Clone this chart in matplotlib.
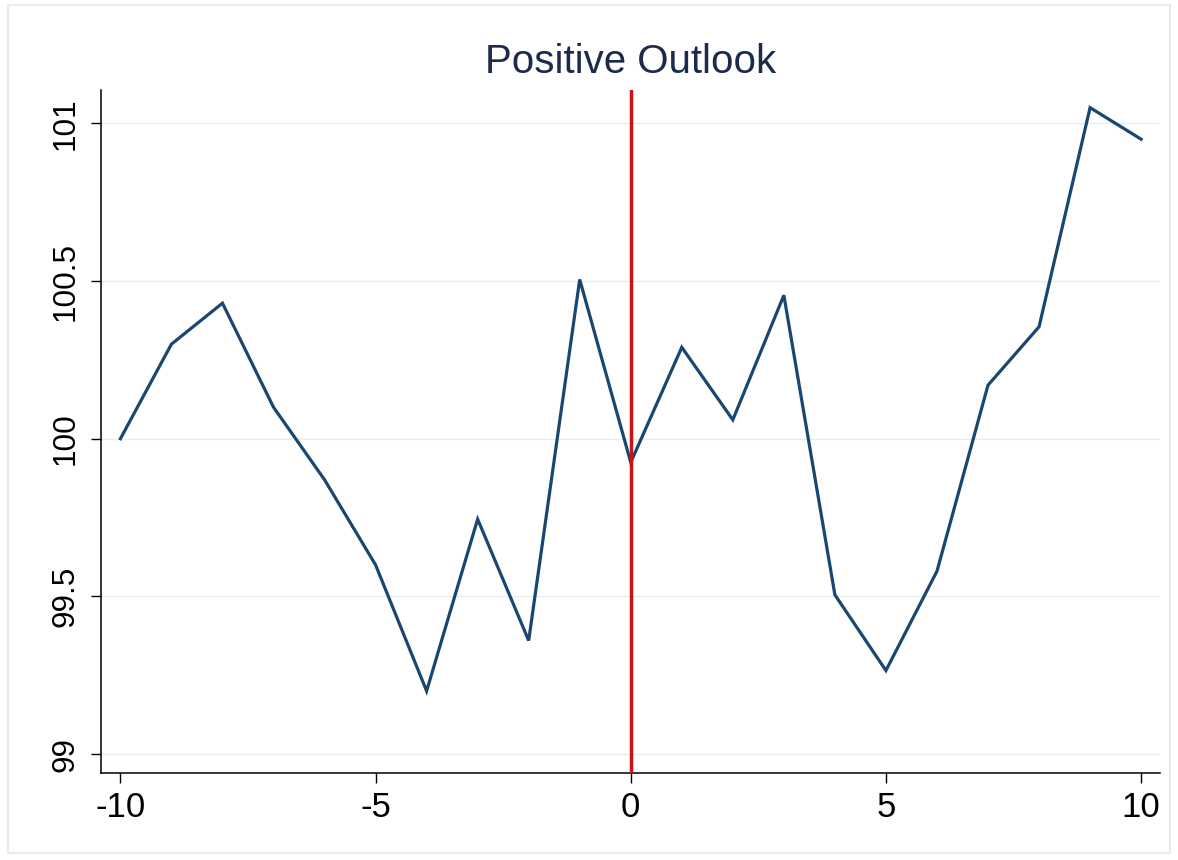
import matplotlib

matplotlib.use("Agg")
import matplotlib.pyplot as plt
from matplotlib.patches import Rectangle

plt.rcParams["font.family"] = ["Liberation Sans", "DejaVu Sans"]

# event window and the index level around the announcement
event_time = [-10, -9, -8, -7, -6, -5, -4, -3, -2, -1, 0,
              1, 2, 3, 4, 5, 6, 7, 8, 9, 10]
index_level = [100.00, 100.30, 100.43, 100.10, 99.87, 99.60, 99.20, 99.745,
               99.36, 100.505, 99.925, 100.29, 100.06, 100.455, 99.505,
               99.265, 99.58, 100.17, 100.355, 101.05, 100.95]
event_day = 0
x_ticks = [-10, -5, 0, 5, 10]
y_ticks = [99, 99.5, 100, 100.5, 101]
y_tick_labels = ["99", "99.5", "100", "100.5", "101"]

navy = "#1a476f"
red = "#c81414"
grid = "#e8eef0"

W, H = 1178, 860
fig = plt.figure(figsize=(W / 100, H / 100), dpi=100)
fig.patch.set_facecolor("white")

# outer graph-region frame
fig.add_artist(Rectangle((8 / W, 1 - 853 / H), (1170 - 8) / W, (853 - 5) / H,
                         transform=fig.transFigure, fill=False,
                         edgecolor="#e3e8eb", linewidth=1.2))

ax = fig.add_axes([101 / W, 1 - 773 / H, (1160 - 101) / W, (773 - 90) / H])
ax.set_facecolor("white")

ax.plot(event_time, index_level, color=navy, linewidth=2.3, zorder=3,
        solid_joinstyle="miter")
ax.axvline(event_day, color=red, linewidth=2.5, zorder=4)

ax.set_xlim(-10.38, 10.37)
ax.set_ylim(98.94, 101.106)

ax.set_xticks(x_ticks)
ax.set_xticklabels([str(t) for t in x_ticks], fontsize=25)
ax.set_yticks(y_ticks)
ax.set_yticklabels(y_tick_labels, fontsize=22.7, rotation=90, va="center")

ax.yaxis.grid(True, color=grid, linewidth=1.0, zorder=0)
ax.set_axisbelow(True)

for side in ("top", "right"):
    ax.spines[side].set_visible(False)
for side in ("left", "bottom"):
    ax.spines[side].set_color("black")
    ax.spines[side].set_linewidth(1.1)

ax.tick_params(axis="x", length=7, width=1.0, pad=6, colors="black")
ax.tick_params(axis="y", length=7, width=1.0, pad=8, colors="black")

ax.set_title("Positive Outlook", fontsize=29, color="#1c2b4b", pad=12)

fig.savefig("out.png", dpi=100, facecolor="white")
